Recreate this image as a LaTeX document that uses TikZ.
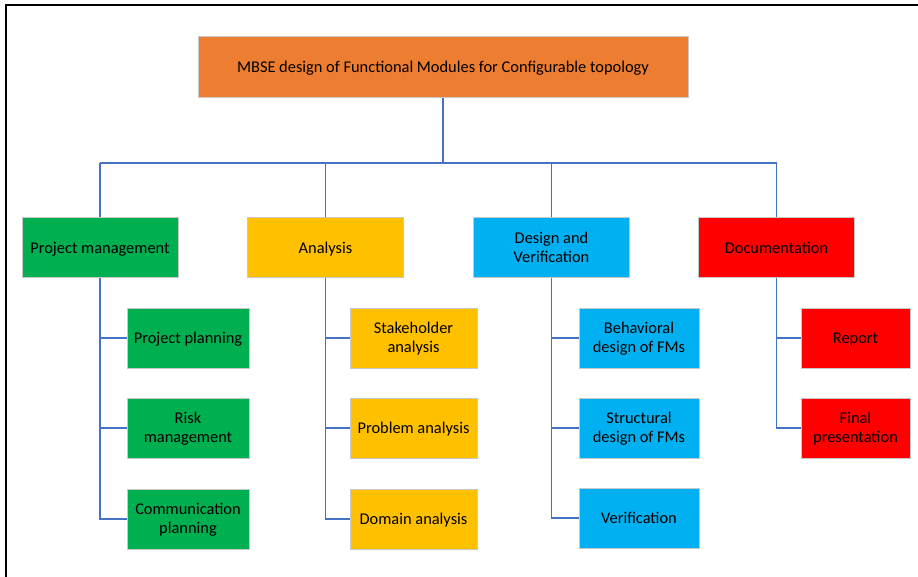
\documentclass[tikz,border=0pt]{standalone}
\usepackage{fontspec}
\setmainfont{Carlito}
\definecolor{boxorange}{HTML}{ED7D31}
\definecolor{boxgreen}{HTML}{00B050}
\definecolor{boxyellow}{HTML}{FFC000}
\definecolor{boxcyan}{HTML}{00B0F0}
\definecolor{boxred}{HTML}{FF0000}
\definecolor{linkblue}{HTML}{4472C4}
\definecolor{edgegray}{HTML}{C8C8C8}
% centred lines of box text, with a little room above so the text sits on the box middle
\newcommand{\boxlines}[1]{\raisebox{0pt}[\dimexpr\height+2.6pt\relax][\depth]{\begin{tabular}{@{}c@{}}#1\end{tabular}}}
\begin{document}
\begin{tikzpicture}[x=1pt,y=-1pt,
  wbs/.style={draw=edgegray, line width=1pt, inner sep=0pt,
    font=\fontsize{16.4}{19.5}\selectfont, text=black, minimum height=60pt},
  top/.style={wbs, fill=boxorange, minimum width=490pt, minimum height=61pt},
  lvl/.style={wbs, minimum width=156pt},
  link/.style={draw=linkblue, line width=1.3pt}]
\useasboundingbox (0,0) rectangle (918,577);
% frame edges
\draw[line width=2pt] (6,577) -- (6,5) -- (918,5);

% root
\node[top] (root) at (443,67.5) {\boxlines{MBSE design of Functional Modules for Configurable topology}};

% first level
\node[lvl, fill=boxgreen]  (pm)  at (100,248)   {\boxlines{Project management}};
\node[lvl, fill=boxyellow] (an)  at (325.5,248) {\boxlines{Analysis}};
\node[lvl, fill=boxcyan]   (dv)  at (551.5,248) {\boxlines{Design and\\Verification}};
\node[lvl, fill=boxred]    (doc) at (776.5,248) {\boxlines{Documentation}};

% project management
\node[wbs, fill=boxgreen, minimum width=122pt] (pm1) at (188,338) {\boxlines{Project planning}};
\node[wbs, fill=boxgreen, minimum width=122pt] (pm2) at (188,428) {\boxlines{Risk\\management}};
\node[wbs, fill=boxgreen, minimum width=122pt] (pm3) at (188,519) {\boxlines{Communication\\planning}};

% analysis
\node[wbs, fill=boxyellow, minimum width=127pt] (an1) at (413.5,338) {\boxlines{Stakeholder\\analysis}};
\node[wbs, fill=boxyellow, minimum width=127pt] (an2) at (413.5,428) {\boxlines{Problem analysis}};
\node[wbs, fill=boxyellow, minimum width=127pt] (an3) at (413.5,519) {\boxlines{Domain analysis}};

% design and verification
\node[wbs, fill=boxcyan, minimum width=120pt] (dv1) at (639,338) {\boxlines{Behavioral\\design of FMs}};
\node[wbs, fill=boxcyan, minimum width=120pt] (dv2) at (639,428) {\boxlines{Structural\\design of FMs}};
\node[wbs, fill=boxcyan, minimum width=120pt] (dv3) at (639,518) {\boxlines{Verification}};

% documentation
\node[wbs, fill=boxred, minimum width=109pt] (doc1) at (855.5,338) {\boxlines{Report}};
\node[wbs, fill=boxred, minimum width=109pt] (doc2) at (855.5,428) {\boxlines{Final\\presentation}};

% root to first level
\coordinate (bus) at (443,163);
\draw[link] (root.south) -- (bus);
\foreach \n in {pm,an,dv,doc}
  \draw[link] (\n.north) -- (\n.north |- bus);
\draw[link] (pm.north |- bus) -- (doc.north |- bus);

% first level to children
\draw[link] (pm.south) |- (pm3.west);
\draw[link] (pm.south |- pm1.west) -- (pm1.west);
\draw[link] (pm.south |- pm2.west) -- (pm2.west);
\draw[link] (an.south) |- (an3.west);
\draw[link] (an.south |- an1.west) -- (an1.west);
\draw[link] (an.south |- an2.west) -- (an2.west);
\draw[link] (dv.south) |- (dv3.west);
\draw[link] (dv.south |- dv1.west) -- (dv1.west);
\draw[link] (dv.south |- dv2.west) -- (dv2.west);
\draw[link] (doc.south) |- (doc2.west);
\draw[link] (doc.south |- doc1.west) -- (doc1.west);
\end{tikzpicture}
\end{document}
